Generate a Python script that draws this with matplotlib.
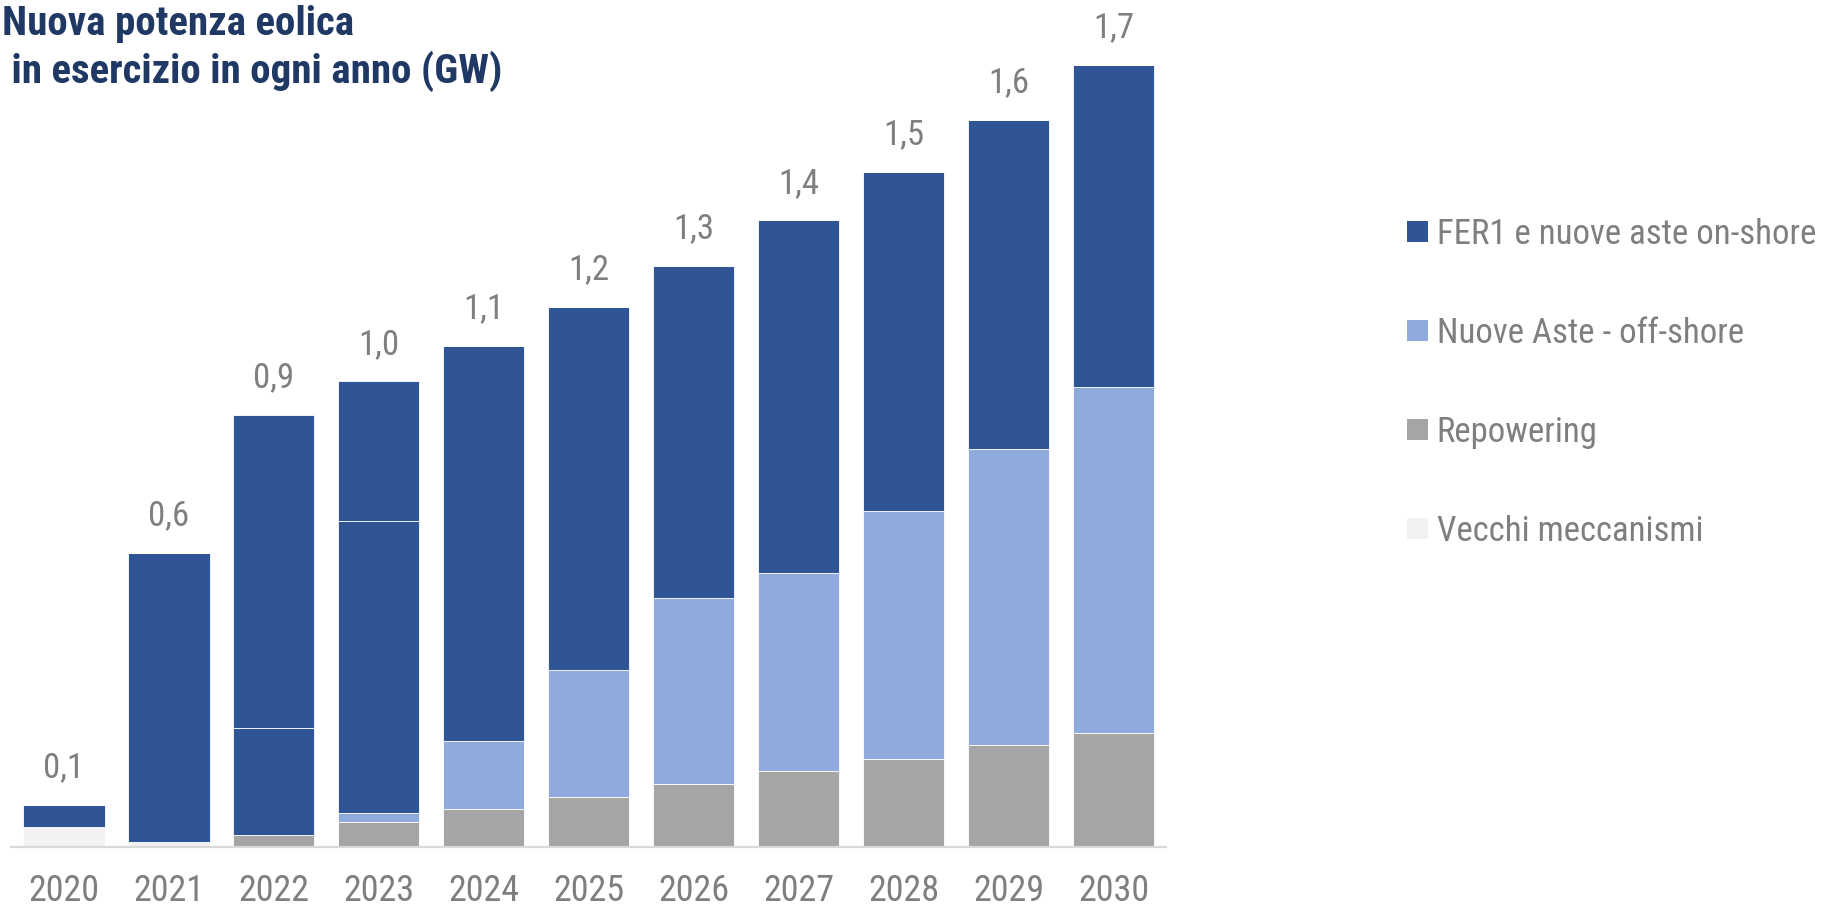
import matplotlib
matplotlib.use("Agg")
import matplotlib.pyplot as plt
from matplotlib import font_manager
from matplotlib.patches import Patch
import numpy as np

years = ['2020', '2021', '2022', '2023', '2024', '2025', '2026', '2027', '2028', '2029', '2030']
vecchi = [0.043, 0.011, 0, 0, 0, 0, 0, 0, 0, 0, 0]
repowering = [0, 0, 0.027, 0.054, 0.083, 0.108, 0.136, 0.165, 0.192, 0.222, 0.247]
offshore = [0, 0, 0, 0.021, 0.147, 0.277, 0.405, 0.430, 0.538, 0.644, 0.753]
onshore = [0.048, 0.629, 0.231, 0.633, 0.859, 0.788, 0.723, 0.767, 0.737, 0.715, 0.700]
onshore_extra = [0, 0, 0.681, 0.304, 0, 0, 0, 0, 0, 0, 0]

legend_labels = ['FER1 e nuove aste on-shore', 'Nuove Aste - off-shore', 'Repowering', 'Vecchi meccanismi']
title_lines = ['Nuova potenza eolica', ' in esercizio in ogni anno (GW)']

C_DARK = '#2F5597'
C_LIGHT = '#8FAADC'
C_GRAY = '#A5A5A5'
C_VLIGHT = '#F2F2F2'
TXT = '#7F7F7F'
TITLE_C = '#1F3864'


def available(name):
    try:
        font_manager.findfont(font_manager.FontProperties(family=name), fallback_to_default=False)
        return True
    except Exception:
        return False


narrow = None
for cand in ['Liberation Sans Narrow', 'Arial Narrow', 'Roboto Condensed']:
    if available(cand):
        narrow = cand
        break

if narrow:
    FONT = [narrow, 'Liberation Sans', 'DejaVu Sans']
    FS_TICK, FS_VAL, FS_LEG, FS_TITLE = 26, 25, 25, 29.5
    LSP = 1.9
else:
    FONT = ['Liberation Sans', 'DejaVu Sans']
    FS_TICK, FS_VAL, FS_LEG, FS_TITLE = 24, 23, 21.5, 26.5
    LSP = 2.2
plt.rcParams['font.family'] = FONT

fig = plt.figure(figsize=(18.28, 9.10), dpi=100)
ax = fig.add_axes([0.00629, 0.0692, 0.6316, 0.9308])

x = np.arange(len(years))
w = 0.773
bottom = np.zeros(len(years))
for vals, col in [(vecchi, C_VLIGHT), (repowering, C_GRAY), (offshore, C_LIGHT),
                  (onshore, C_DARK), (onshore_extra, C_DARK)]:
    v = np.array(vals, dtype=float)
    ax.bar(x, v, w, bottom=bottom, color=col, edgecolor='white', linewidth=0.6, zorder=2)
    bottom = bottom + v

totals = bottom
for xi, t in zip(x, totals):
    ax.annotate(f"{t:.1f}".replace('.', ','), (xi, t), xytext=(0, 20), textcoords='offset points',
                ha='center', va='baseline', fontsize=FS_VAL, color=TXT)

ax.set_xlim(-0.5, 10.5)
ax.set_ylim(0, 1.8413)
ax.set_xticks(x)
ax.set_xticklabels(years, fontsize=FS_TICK, color=TXT)
ax.tick_params(axis='x', length=0, pad=18.5)
ax.set_yticks([])
for s in ['top', 'right', 'left']:
    ax.spines[s].set_visible(False)
ax.spines['bottom'].set_color('#D9D9D9')
ax.spines['bottom'].set_linewidth(1.6)
ax.spines['bottom'].set_zorder(3)

fig.text(0.001, 1 - 35 / 910, title_lines[0], fontsize=FS_TITLE, fontweight='bold',
         color=TITLE_C, ha='left', va='baseline')
fig.text(0.001, 1 - 83.3 / 910, title_lines[1], fontsize=FS_TITLE, fontweight='bold',
         color=TITLE_C, ha='left', va='baseline')

handles = [Patch(facecolor=C_DARK), Patch(facecolor=C_LIGHT),
           Patch(facecolor=C_GRAY), Patch(facecolor=C_VLIGHT)]
leg = fig.legend(handles, legend_labels, loc='upper left', bbox_to_anchor=(0.7695, 0.7604),
                 frameon=False, fontsize=FS_LEG, labelcolor=TXT, handlelength=0.62, handleheight=0.56,
                 handletextpad=0.24, labelspacing=LSP, borderpad=0, borderaxespad=0)

fig.savefig('out.png', dpi=100)
